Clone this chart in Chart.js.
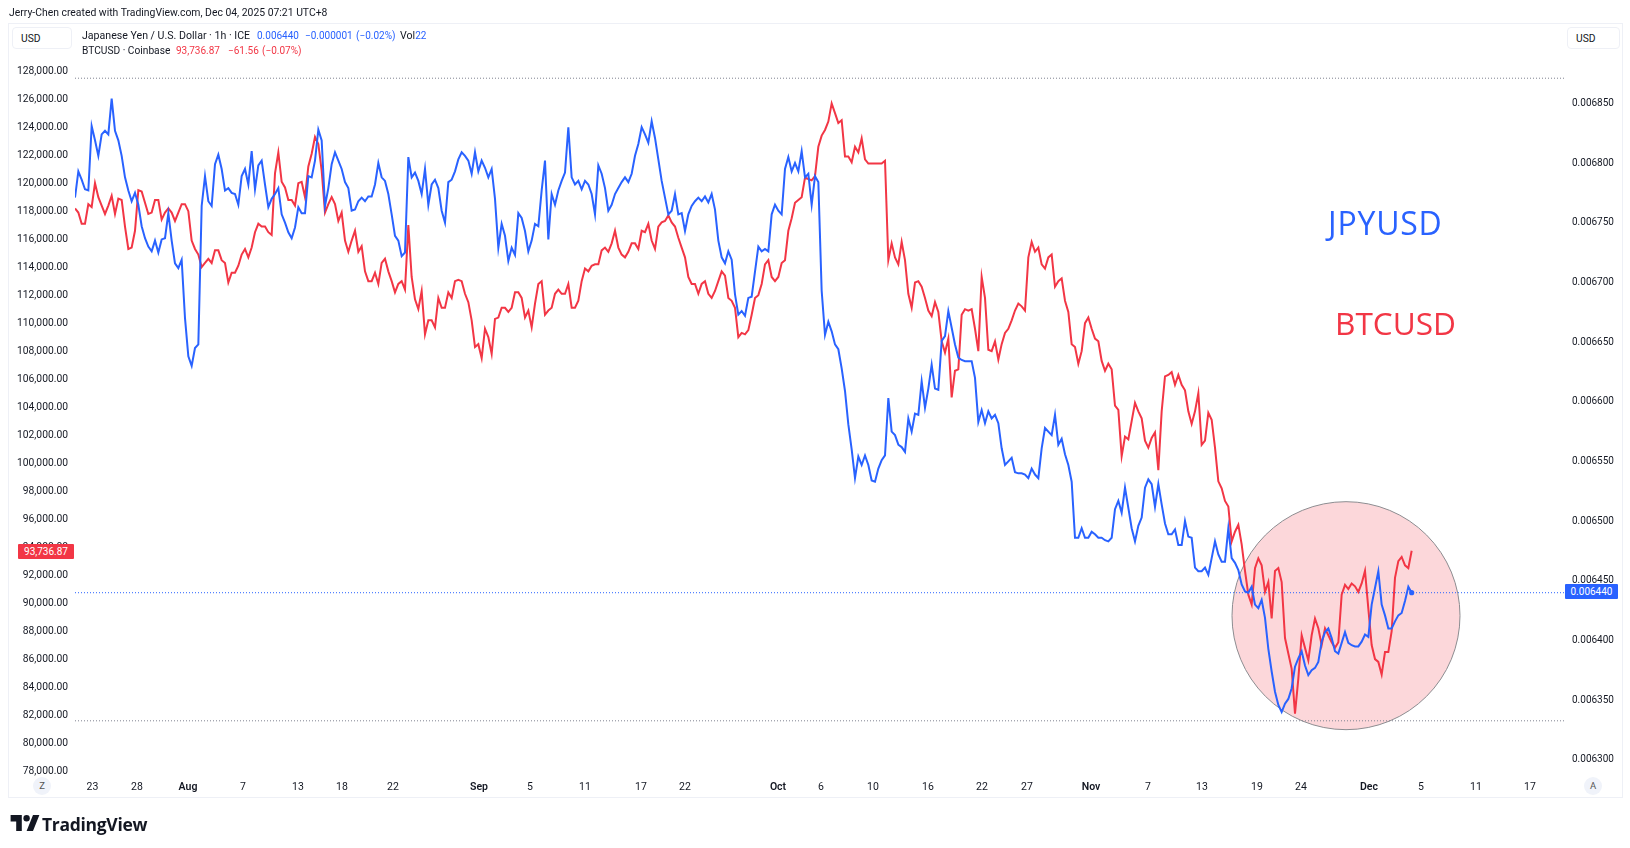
<!DOCTYPE html>
<html><head><meta charset="utf-8">
<script src="https://cdn.jsdelivr.net/npm/chart.js@4"></script>
<style>
html,body{margin:0;padding:0;background:#fff;width:1630px;height:848px;overflow:hidden}
body{font-family:Roboto,"Noto Sans",sans-serif;color:#131722;position:relative}
#panel{position:absolute;left:8px;top:23px;width:1613px;height:773px;border:1px solid #eef0f6;box-sizing:content-box}
canvas{position:absolute;left:0;top:0}
.t{position:absolute;white-space:nowrap;font-size:10.6px;line-height:14px}
.box{position:absolute;border:1px solid #eef0f6;border-radius:4px;font-size:10.3px;line-height:21px;background:#fff;box-sizing:border-box;height:22px}
.badge{position:absolute;color:#fff;font-size:10px;line-height:15px;height:15px;text-align:center;border-radius:1px}
.round{position:absolute;width:18px;height:18px;border-radius:9px;background:#f0f3fa;font-size:9.5px;line-height:18px;text-align:center;color:#555}
.big{position:absolute;font-family:"Open Sans",sans-serif;font-size:32px;line-height:40px;white-space:nowrap}
.b{color:#2962ff;font-size:10px}.r{color:#f23645;font-size:10px}
</style></head><body>
<div id="panel"></div>
<canvas id="c" width="1630" height="848"></canvas>
<div class="t" style="left:9px;top:6px;font-size:10.4px">Jerry-Chen created with TradingView.com, Dec 04, 2025 07:21 UTC+8</div>
<div class="box" style="left:12px;top:27px;width:60px;padding-left:8px">USD</div>
<div class="box" style="left:1567px;top:27px;width:53px;padding-left:8px">USD</div>
<div class="t" style="left:82px;top:29px">Japanese Yen / U.S. Dollar · 1h · ICE</div>
<div class="t b" style="left:257px;top:29px">0.006440</div>
<div class="t b" style="left:305px;top:29px">−0.000001</div>
<div class="t b" style="left:356px;top:29px">(−0.02%)</div>
<div class="t" style="left:400px;top:29px">Vol<span class="b">22</span></div>
<div class="t" style="left:82px;top:43.5px;font-size:10.2px">BTCUSD · Coinbase</div>
<div class="t r" style="left:176px;top:43.5px">93,736.87</div>
<div class="t r" style="left:228px;top:43.5px">−61.56</div>
<div class="t r" style="left:262px;top:43.5px">(−0.07%)</div>
<div class="big" style="left:1328px;top:203px;color:#2962ff;letter-spacing:.8px">JPYUSD</div>
<div class="big" style="left:1335px;top:303px;color:#f23645;font-size:31.6px">BTCUSD</div>
<div class="badge" style="left:18px;top:543.5px;width:56px;background:#f23645">93,736.87</div>
<div class="badge" style="left:1565px;top:583.5px;width:53px;background:#2962ff">0.006440</div>
<div class="round" style="left:33px;top:777px">Z</div>
<div class="round" style="left:1584px;top:777px">A</div>
<svg style="position:absolute;left:10px;top:815px" width="30" height="16" viewBox="0 0 36 20"><path d="M14 20H7V8H0V0h14v20zM28 20h-8L28 0h8l-8 20z" fill="#131722"/><circle cx="20" cy="4" r="4" fill="#131722"/></svg>
<div style="position:absolute;left:42px;top:811px;font-size:17.5px;line-height:26px;font-weight:700;letter-spacing:-.3px;font-family:'Open Sans',sans-serif">TradingView</div>
<script>
// JPY/USD closes, millionths of a dollar, one value per 6-hour session step
const jpyMicroUsd = [
6771,6793,6786,6778,6777,6831,6819,6806,6824,6827,6824,6854,6827,6819,6806,6788,6777,6768,6775,6765,
6747,6737,6730,6726,6735,6725,6736,6737,6758,6735,6716,6712,6719,6670,6638,6630,6645,6648,6764,6789,
6768,6764,6799,6807,6795,6777,6779,6775,6774,6765,6789,6795,6782,6810,6778,6798,6802,6782,6763,6770,
6774,6779,6757,6750,6742,6737,6746,6763,6758,6758,6789,6788,6802,6828,6819,6764,6779,6799,6809,6802,
6795,6784,6779,6760,6761,6768,6771,6768,6772,6772,6782,6800,6788,6785,6774,6757,6739,6735,6722,6725,
6805,6788,6792,6785,6774,6795,6765,6782,6786,6779,6760,6750,6784,6786,6793,6803,6809,6806,6802,6791,
6809,6793,6802,6796,6788,6795,6770,6729,6749,6739,6718,6729,6723,6758,6754,6743,6726,6735,6749,6747,
6777,6802,6736,6774,6765,6777,6785,6792,6830,6788,6782,6785,6778,6785,6782,6774,6757,6798,6791,6779,
6760,6765,6774,6779,6784,6788,6784,6791,6806,6816,6830,6824,6817,6835,6821,6803,6785,6771,6757,6760,
6774,6757,6758,6743,6757,6764,6768,6771,6768,6772,6767,6774,6761,6735,6721,6716,6726,6719,6690,6673,
6676,6672,6687,6688,6709,6730,6726,6728,6726,6757,6765,6760,6757,6795,6805,6793,6800,6793,6810,6788,
6791,6765,6789,6784,6693,6656,6667,6659,6648,6644,6628,6609,6581,6560,6536,6554,6547,6555,6547,6534,
6533,6544,6551,6555,6603,6575,6572,6564,6562,6558,6586,6575,6590,6589,6617,6595,6611,6631,6611,6610,
6651,6655,6676,6662,6648,6637,6635,6634,6634,6634,6620,6583,6593,6582,6592,6586,6589,6582,6561,6547,
6550,6553,6541,6540,6540,6539,6536,6544,6539,6536,6561,6578,6575,6572,6589,6564,6569,6556,6547,6533,
6486,6486,6494,6486,6486,6491,6489,6486,6486,6484,6483,6486,6510,6517,6507,6528,6511,6494,6483,6496,
6503,6528,6535,6531,6512,6531,6514,6498,6489,6489,6493,6480,6480,6500,6487,6486,6461,6458,6458,6461,
6455,6469,6483,6472,6466,6466,6494,6469,6465,6459,6447,6441,6440,6445,6430,6427,6434,6419,6393,6374,
6357,6346,6340,6347,6351,6360,6378,6385,6391,6379,6371,6375,6377,6382,6399,6407,6410,6402,6391,6389,
6398,6407,6398,6396,6395,6395,6399,6405,6403,6430,6444,6458,6430,6421,6410,6410,6416,6421,6423,6433,
6445,6440];
// BTC/USD closes, thousands of dollars, same steps
const btcThousands = [
118.2,117.9,117.1,117.1,118.5,118.3,120.0,119.0,118.4,117.8,118.4,119.1,117.8,118.9,118.8,116.9,115.3,115.4,116.6,119.5,
119.4,118.6,117.8,117.9,118.8,118.8,117.4,117.9,118.2,117.9,117.3,117.9,118.5,118.5,118.0,115.9,115.3,114.9,114.0,114.3,
114.6,114.3,115.2,115.2,114.5,114.3,112.9,113.6,113.6,114.1,114.9,115.3,114.7,115.4,116.5,117.1,116.9,116.9,116.5,116.3,
120.7,122.2,120.1,119.7,118.8,118.8,118.4,120.0,120.1,119.0,121.2,122.1,123.3,122.8,120.9,117.9,118.5,119.0,118.5,117.3,
117.9,115.9,115.1,115.9,116.6,115.1,115.5,113.7,113.0,113.0,113.6,112.8,114.3,114.6,113.7,113.0,112.2,112.8,113.0,112.4,
117.0,113.3,111.7,111.0,112.3,109.2,110.2,110.2,109.7,111.8,111.1,111.1,112.2,111.8,113.0,113.1,113.0,112.1,111.5,110.2,
108.3,108.5,107.5,109.6,109.0,107.8,110.3,110.4,111.1,111.1,110.8,111.1,112.2,112.2,111.8,110.4,110.9,109.7,111.4,112.8,
113.0,110.6,110.9,111.1,112.1,112.4,112.1,112.1,112.8,111.1,111.1,111.6,113.0,113.9,113.7,114.1,114.2,114.2,115.2,115.4,
115.1,115.7,116.6,115.4,114.9,114.7,115.1,115.7,115.7,115.3,116.6,116.5,117.1,115.9,115.3,116.9,117.2,117.3,117.7,117.2,
116.9,116.1,115.4,114.7,113.3,112.8,112.8,112.1,112.8,113.0,112.1,111.8,112.3,113.0,113.7,113.4,111.8,111.6,111.1,109.0,
109.3,109.2,109.5,110.6,111.8,112.0,112.8,114.2,114.5,113.3,113.0,113.3,114.3,114.5,116.6,117.5,118.6,118.8,119.0,120.4,
120.3,120.2,120.5,122.6,123.4,123.8,124.4,125.7,125.0,124.3,124.5,121.9,121.9,121.5,122.6,122.2,123.2,121.7,121.4,121.4,
121.4,121.4,121.4,121.6,114.5,115.7,114.7,114.2,115.8,114.5,112.1,111.1,112.9,113.0,112.6,111.8,110.9,110.5,111.5,110.8,
108.7,107.9,108.9,104.7,106.6,106.7,110.6,111.0,110.9,111.0,109.6,108.0,113.3,111.8,108.1,108.0,108.7,107.4,108.5,109.3,
109.6,110.2,110.9,111.4,111.2,110.9,114.7,115.8,115.1,115.4,114.2,113.9,114.7,114.9,112.6,113.0,113.2,111.6,110.8,108.5,
108.3,107.1,108.0,110.0,110.4,109.6,108.9,108.7,107.3,106.6,107.1,106.7,104.1,103.8,100.5,101.9,101.7,103.0,104.3,103.7,
103.2,101.6,101.1,101.8,102.2,99.5,103.7,106.2,106.3,106.5,105.6,106.3,105.6,105.2,103.7,102.8,103.7,105.0,101.3,101.6,
103.6,103.1,101.1,98.7,98.2,97.3,96.9,94.4,95.1,95.6,94.2,92.3,90.6,89.9,92.5,93.2,92.7,90.8,91.5,88.9,
92.3,92.5,91.5,87.5,86.4,85.3,82.1,84.6,87.7,86.8,85.9,87.7,88.9,88.2,87.0,88.2,87.7,87.2,86.8,87.2,
90.6,91.3,91.0,91.4,91.2,90.8,91.4,92.3,89.6,87.0,86.0,85.8,84.9,86.5,86.5,88.0,91.8,93.0,93.3,92.7,
92.5,93.737];
const timeTickLabels = ["23","28","Aug","7","13","18","22","Sep","5","11","17","22","Oct","6","10","16","22","27","Nov","7","13","19","24","Dec","5","11","17"];
const timeTickSteps = [5.25,18.6,33.9,50.4,66.9,80.1,95.4,121.2,136.5,153,169.8,183,210.9,223.8,239.4,255.9,272.1,285.6,304.8,321.9,338.1,354.6,367.8,388.2,403.8,420.3,436.5];
const btcTickValues = [78000,80000,82000,84000,86000,88000,90000,92000,94000,96000,98000,100000,102000,104000,106000,108000,110000,112000,114000,116000,118000,120000,122000,124000,126000,128000];
const jpyTickValues = [0.0063,0.00635,0.0064,0.00645,0.0065,0.00655,0.0066,0.00665,0.0067,0.00675,0.0068,0.00685];
const upperRangeBtc = 127500, lowerRangeBtc = 81590, lastJpy = 0.00644;
const rangeFirstStep = 0, rangeLastStep = 446.7;
const highlightStep = 381.3, highlightBtc = 89100;

const jpyPoints = jpyMicroUsd.map((v,i)=>({x:i,y:+(v*1e-6).toFixed(6)}));
const btcPoints = btcThousands.map((v,i)=>({x:i,y:v*1000}));
const monthLabels = new Set(["Aug","Sep","Oct","Nov","Dec"]);
const fontFam = "Roboto, 'Noto Sans', sans-serif";
const dotted = (c,y,ax)=>({type:'line',yAxisID:ax,order:5,data:[{x:rangeFirstStep,y},{x:rangeLastStep,y}],borderColor:c,borderWidth:1,borderDash:[1,2],pointRadius:0,fill:false});
new Chart(document.getElementById('c'),{
  data:{datasets:[
    {type:'line',label:'JPYUSD',yAxisID:'yR',order:1,data:jpyPoints,borderColor:'#2962ff',borderWidth:2,tension:0,
      pointRadius:c=>c.dataIndex===jpyPoints.length-1?2.6:0,pointBackgroundColor:'#2962ff',pointBorderWidth:0},
    {type:'line',label:'BTCUSD',yAxisID:'yL',order:2,data:btcPoints,borderColor:'#f23645',borderWidth:2,tension:0,pointRadius:0},
    dotted('#7f8290',upperRangeBtc,'yL'),
    dotted('#7f8290',lowerRangeBtc,'yL'),
    dotted('#2962ff',lastJpy,'yR'),
    {type:'bubble',yAxisID:'yL',order:9,data:[{x:highlightStep,y:highlightBtc,r:114}],backgroundColor:'rgba(242,54,69,0.2)',borderColor:'#8c8c90',borderWidth:1,clip:false}
  ]},
  options:{
    responsive:false,animation:false,devicePixelRatio:1,
    layout:{autoPadding:false,padding:{top:23,left:0,right:0,bottom:0}},
    plugins:{legend:{display:false},tooltip:{enabled:false}},
    events:[],
    scales:{
      x:{type:'linear',min:0,max:446.7,
        grid:{display:false,drawTicks:false},border:{display:false},
        afterBuildTicks:s=>{s.ticks=timeTickSteps.map(v=>({value:v}));},
        afterFit:s=>{s.height=71;},
        ticks:{autoSkip:false,maxRotation:0,padding:4,color:'#131722',
          callback:v=>timeTickLabels[timeTickSteps.indexOf(v)],
          font:c=>({family:fontFam,size:10.5,weight:monthLabels.has(c.tick&&c.tick.label)?'600':'400'})}
      },
      yL:{type:'linear',position:'left',min:77575,max:131444,
        grid:{display:false,drawTicks:false},border:{display:false},
        afterBuildTicks:s=>{s.ticks=btcTickValues.map(v=>({value:v}));},
        afterFit:s=>{s.width=75;},
        ticks:{padding:7,color:'#131722',font:{family:fontFam,size:10.3},
          callback:v=>v.toLocaleString('en-US',{minimumFractionDigits:2,maximumFractionDigits:2})}
      },
      yR:{type:'linear',position:'right',min:0.0062856,max:0.0069173,
        grid:{display:false,drawTicks:false},border:{display:false},
        afterBuildTicks:s=>{s.ticks=jpyTickValues.map(v=>({value:v}));},
        afterFit:s=>{s.width=66;},
        ticks:{padding:8,color:'#131722',font:{family:fontFam,size:10},
          callback:v=>v.toFixed(6)}
      }
    }
  }
});
</script>
</body></html>
